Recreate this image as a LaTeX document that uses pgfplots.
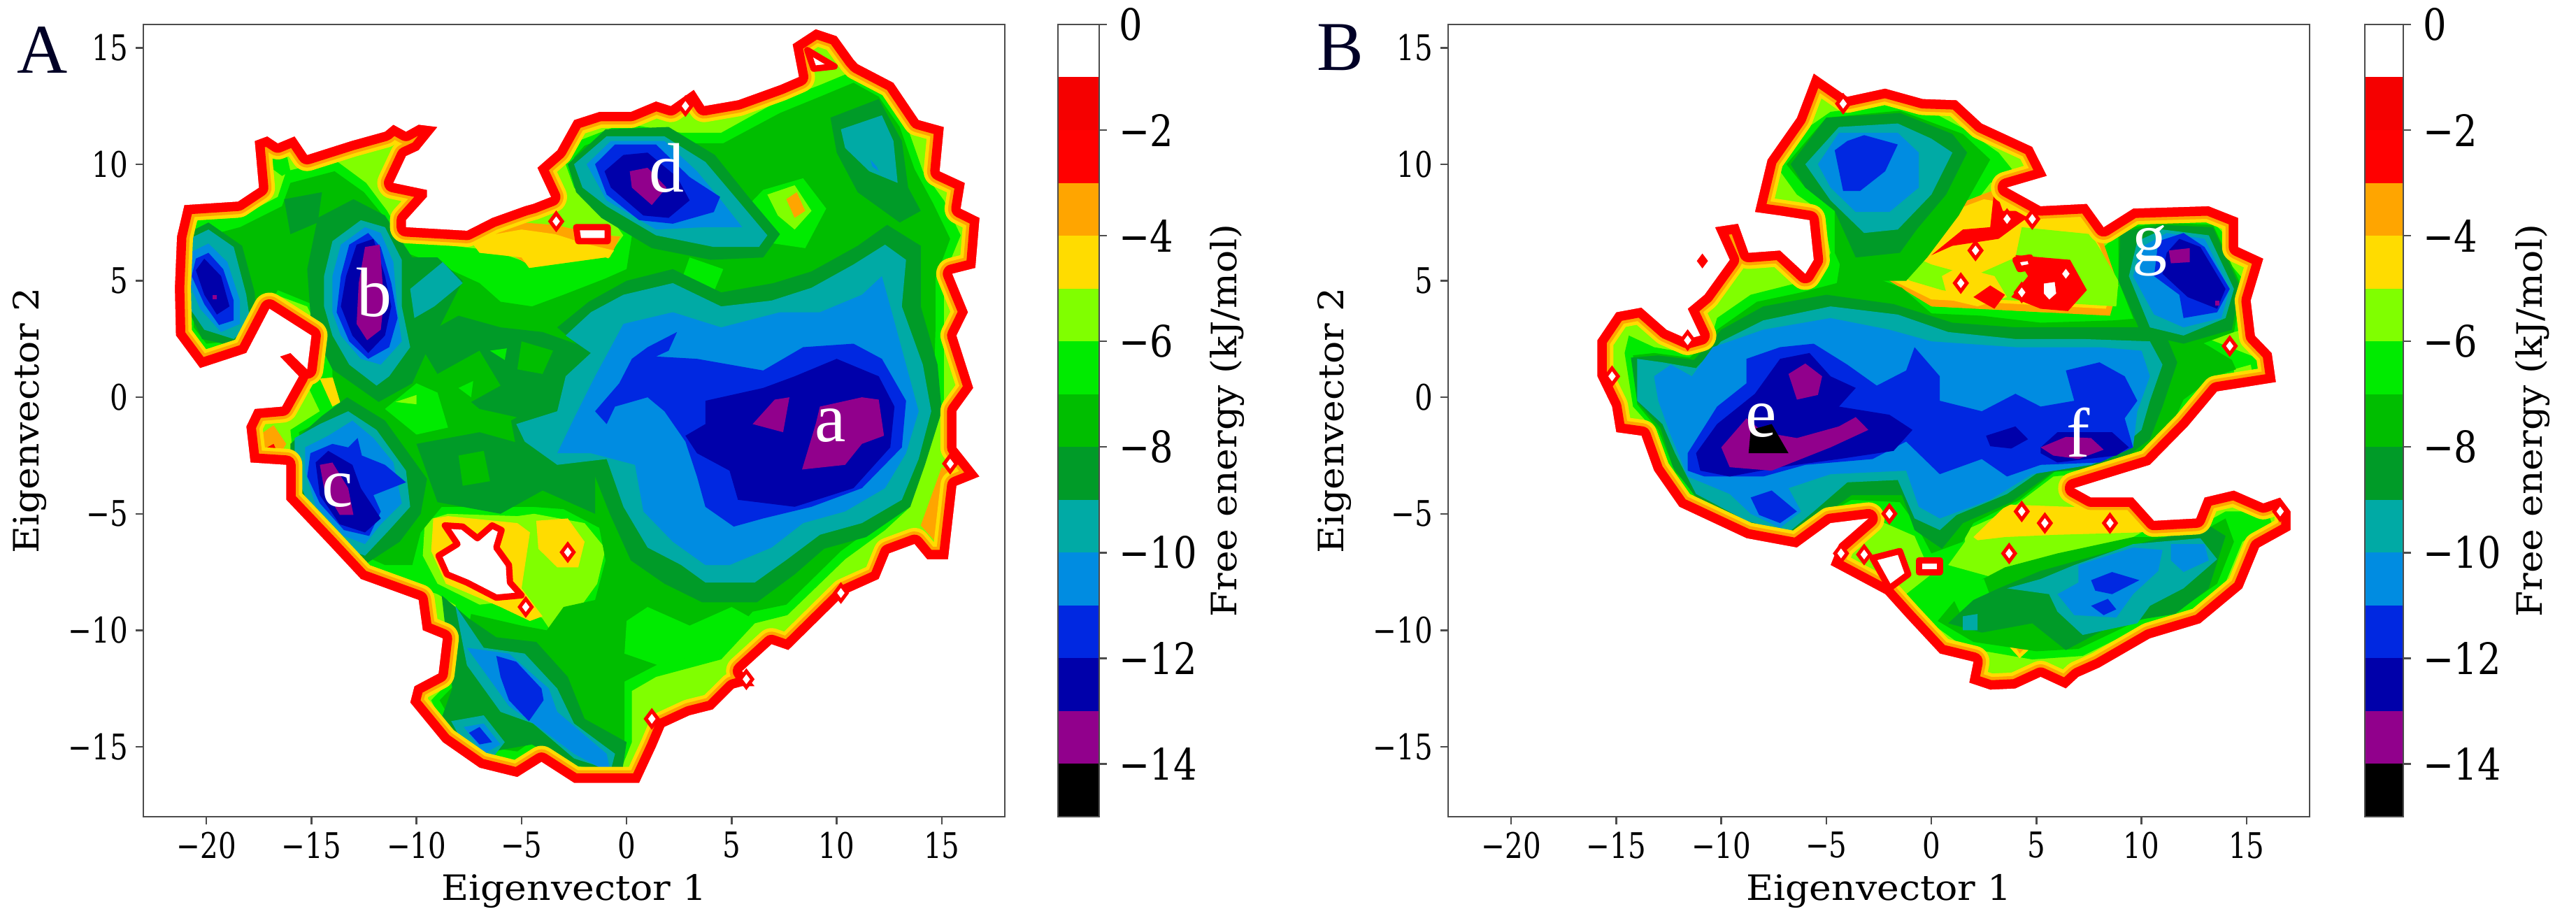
\documentclass[border=0pt]{standalone}
\usepackage{fontspec}
\setmainfont[FakeStretch=0.8]{DejaVu Serif}
\newfontfamily\cbfont[FakeStretch=0.85]{DejaVu Serif}
\newfontfamily\timesf{Liberation Serif}
\usepackage{pgfplots}
\pgfplotsset{compat=1.18}

% level colours, from outermost to deepest
\definecolor{c1}{RGB}{255,0,0}
\definecolor{c3}{RGB}{255,165,0}
\definecolor{c4}{RGB}{255,220,0}
\definecolor{c5}{RGB}{128,255,0}
\definecolor{c6}{RGB}{0,235,0}
\definecolor{c7}{RGB}{0,190,0}
\definecolor{c8}{RGB}{0,155,40}
\definecolor{c9}{RGB}{0,170,165}
\definecolor{c10}{RGB}{0,140,225}
\definecolor{c11}{RGB}{0,40,225}
\definecolor{c12}{RGB}{0,0,170}
\definecolor{c13}{RGB}{145,0,140}
\definecolor{axc}{gray}{0.3}

\newcommand\lv[2]{\addplot[fill=#1,draw=none] coordinates {#2} -- cycle;}
\newcommand\rim[1]{%
  \addplot[fill=c5,draw=c5,line width=2pt,line join=round] coordinates {#1} -- cycle;
  \addplot[fill=c6,draw=none] coordinates {#1} -- cycle;}
% red, orange and yellow bands just inside the outline, then white outside it
\newcommand\ringdo[1]{%
  \addplot[draw=c4,line width=9.2pt,line join=round] coordinates {#1};
  \addplot[draw=c3,line width=7.2pt,line join=round] coordinates {#1};
  \addplot[draw=c1,line width=5.4pt,line join=round] coordinates {#1};
  \addplot[fill=white,draw=none,even odd rule] coordinates {(-23,-18)(18,-18)(18,16)(-23,16)(-23,-18)#1(-23,-18)} -- cycle;}
\newcommand\base[1]{\edef\tmp{\noexpand\addplot[fill=c5,draw=none] coordinates {#1} -- cycle;}\tmp}
\newcommand\ring[1]{\edef\tmp{\noexpand\ringdo{#1}}\tmp}
\newcommand\hole[1]{\addplot[fill=white,draw=c1,line width=1.8pt,line join=round] coordinates {#1} -- cycle;}
\newcommand\pinholes[1]{\addplot[only marks,mark=diamond*,mark size=2.3pt,mark options={fill=white,draw=c1,line width=1pt}] coordinates {#1};}

% outlines of the populated region (first point repeated at the end)
\def\outerA{(-21.5,4.7)(-21.4,6.9)(-21.05,8.25)(-18.5,8.4)(-17.5,9)(-17.7,11)(-17.1,11.2)(-16.6,10.9)(-15.8,11.2)(-15.2,10.4)(-13.1,11)(-11.5,11.4)(-11.1,11.7)(-10.5,11.4)(-9.9,11.7)(-9,11.6)(-9.9,10.6)(-10.5,10.35)(-11.1,9.2)(-9.5,8.9)(-9.5,8.6)(-10.5,7.6)(-10.5,7.3)(-7.6,7.15)(-6.4,7.7)(-4.85,8.2)(-4.45,8.3)(-3.6,8.6)(-4.25,9.85)(-3.3,10.6)(-2.5,11.9)(-1.3,12.25)(0.2,12.25)(1.4,12.7)(2.1,12.5)(3.2,13.2)(3.7,12.5)(5.3,12.75)(7.3,13.4)(8.2,13.75)(7.9,15.15)(9,15.8)(10,15.5)(10.8,14.5)(11,14.3)(12.7,13.5)(13.9,11.9)(15.1,11.6)(14.9,9.7)(16.1,9.2)(15.9,8.1)(16.8,7.7)(16.6,5.55)(15.5,5.3)(16.25,3.65)(15.7,2.65)(16.5,0.4)(15.7,-0.6)(15.7,-2.15)(16.8,-3.4)(15.7,-3.8)(15.3,-6.95)(14.3,-6.95)(13.7,-6.3)(12.5,-6.7)(12,-7.8)(10.4,-8.45)(7.7,-10.85)(6.9,-10.6)(5.5,-11.75)(6.1,-12.4)(5.5,-12.4)(5.1,-12.5)(4.1,-13.4)(3,-13.65)(1.8,-14.15)(1.4,-15)(0.6,-16.55)(-2.5,-16.55)(-4.05,-15.65)(-5.2,-16.3)(-7,-15.9)(-8.75,-14.8)(-10.3,-13.1)(-10.1,-12.4)(-8.95,-11.85)(-8.75,-10.35)(-9.7,-10)(-9.9,-8.7)(-12.65,-7.8)(-14.2,-6.3)(-16.2,-4.4)(-16.2,-2.9)(-17.9,-2.8)(-18.1,-1.25)(-17.7,-0.5)(-16.4,-0.4)(-15.6,0.9)(-16.5,1.75)(-16,1.9)(-15.2,1.2)(-15,2.65)(-17,3.8)(-18.1,1.9)(-20.3,1.25)(-21.45,2.65)(-21.5,4.7)}
\def\outerB{(-15.9,2.45)(-15,3.65)(-13.8,3.85)(-12.6,2.9)(-11.6,2.5)(-11,2.65)(-11.6,3.8)(-10.8,4.4)(-9.6,5.9)(-10.3,7.3)(-9.2,7.45)(-8.7,6.2)(-7.2,6.3)(-6,5.3)(-5.6,5.9)(-5.8,7.6)(-7.2,7.8)(-8.4,7.95)(-7.8,10.2)(-6.4,12)(-5.6,13.9)(-4,12.9)(-2.2,13.25)(-0.4,12.8)(1.2,12.75)(2.4,11.75)(4.8,10.75)(5.5,9.5)(3.6,9)(5.2,8.2)(7.4,8.3)(8.2,7.3)(9.6,8.1)(13.2,8.2)(14.6,7.7)(14.6,6.45)(15.8,5.95)(15.2,4.15)(15.4,2.65)(16.2,1.9)(16.4,0.65)(13.6,0.25)(12.2,-1.25)(10.4,-2.9)(6.8,-3.9)(7.6,-4.3)(9.6,-4.3)(10.6,-5.3)(12.6,-5.2)(13,-4.3)(14.4,-4)(15.8,-4.55)(16.6,-4.3)(17.1,-4.9)(17.1,-5.7)(15.6,-6.45)(14.8,-8.2)(12.8,-9.7)(10.4,-10.35)(8,-11.6)(7,-12)(6.4,-12.5)(5.2,-12)(4,-12.5)(2.8,-12.55)(1.8,-12.25)(2,-11.35)(0.4,-11)(-1.2,-9.45)(-2.2,-8.45)(-4.8,-7.2)(-4.4,-6.3)(-3,-5.2)(-4.8,-5.4)(-6.4,-6.45)(-8.8,-6.05)(-12,-4.7)(-13.2,-3.15)(-13.8,-1.65)(-15,-1.5)(-15.2,-0.4)(-15.9,0.9)(-15.9,2.45)}

\pgfplotsset{
  map/.style={
    scale only axis, width=246.4pt, height=226.6pt, anchor=south west,
    xmin=-23, xmax=18, ymin=-18, ymax=16, axis on top,
    axis line style={axc,line width=0.5pt},
    xtick={-20,-15,-10,-5,0,5,10,15},
    xticklabels={−20,−15,−10,−5,0,5,10,15},
    ytick={-15,-10,-5,0,5,10,15},
    yticklabels={−15,−10,−5,0,5,10,15},
    xtick pos=bottom, ytick pos=left,
    tick align=outside, major tick length=2.2pt,
    tick style={axc,line width=0.5pt},
    tick label style={font=\fontsize{10.1}{12}\selectfont},
    xticklabel style={inner sep=1.5pt,yshift=-0.5pt},
    yticklabel style={inner sep=2pt},
    xlabel={\scalebox{1.34}[1]{Eigenvector 1}}, ylabel={\scalebox{1.34}[1]{Eigenvector 2}},
    label style={font=\fontsize{12}{14}\selectfont},
    every axis x label/.style={at={(axis description cs:0.5,-0.0940)},anchor=center},
    every axis y label/.style={at={(axis description cs:-0.132,0.5)},rotate=90,anchor=center},
  },
  cbar/.style={
    scale only axis, height=226.6pt, anchor=south west,
    xmin=0, xmax=1, ymin=-15, ymax=0, axis on top,
    axis line style={axc,line width=0.5pt},
    xtick=\empty,
    ytick={-14,-12,-10,-8,-6,-4,-2,0},
    yticklabels={−14,−12,−10,−8,−6,−4,−2,0},
    ytick pos=right, yticklabel pos=right,
    tick align=outside, major tick length=2.2pt,
    tick style={axc,line width=0.5pt},
    tick label style={font=\cbfont\fontsize{12.4}{14}\selectfont},
    ylabel={\scalebox{1.34}[1]{Free energy (kJ/mol)}},
    label style={font=\fontsize{12}{14}\selectfont},
  },
}
\newcommand\cbarfill{%
  \lv{white}{(0,0)(1,0)(1,-1)(0,-1)}
  \lv{red!96!black}{(0,-1)(1,-1)(1,-2)(0,-2)}
  \lv{c1}{(0,-2)(1,-2)(1,-3)(0,-3)}
  \lv{c3}{(0,-3)(1,-3)(1,-4)(0,-4)}
  \lv{c4}{(0,-4)(1,-4)(1,-5)(0,-5)}
  \lv{c5}{(0,-5)(1,-5)(1,-6)(0,-6)}
  \lv{c6}{(0,-6)(1,-6)(1,-7)(0,-7)}
  \lv{c7}{(0,-7)(1,-7)(1,-8)(0,-8)}
  \lv{c8}{(0,-8)(1,-8)(1,-9)(0,-9)}
  \lv{c9}{(0,-9)(1,-9)(1,-10)(0,-10)}
  \lv{c10}{(0,-10)(1,-10)(1,-11)(0,-11)}
  \lv{c11}{(0,-11)(1,-11)(1,-12)(0,-12)}
  \lv{c12}{(0,-12)(1,-12)(1,-13)(0,-13)}
  \lv{c13}{(0,-13)(1,-13)(1,-14)(0,-14)}
  \lv{black}{(0,-14)(1,-14)(1,-15)(0,-15)}
}
\newcommand\mk[3]{\node[text=white,font=\timesf\fontsize{20}{20}\selectfont] at (axis cs:#1,#2) {#3};}

\begin{document}
\begin{tikzpicture}
\useasboundingbox (0,0) rectangle (736.8pt,264pt);

% ---- panel A
\begin{axis}[map, at={(41pt,30.4pt)}]
\base{\outerA}
\rim{(-20.9,4.5)(-20.8,7)(-20.4,7.6)(-18.5,7.7)(-16.6,8.6)(-16.2,9.7)(-13.9,10.2)(-12.4,9.2)(-11.4,8)(-10.7,6.9)(-8.75,6.55)(-6.4,6.3)(-4.45,5.7)(-2.5,5.7)(-0.95,5.95)(-0.15,6.95)(-0.75,7.7)(-2.5,9)(-2.9,10)(-2.3,11)(-0.15,11.75)(2.6,11.35)(4.5,11.35)(7.3,12.75)(9.2,13.4)(10.8,14)(12.15,13.25)(13.3,11.75)(14.1,9.7)(15.1,8.45)(15.9,6.95)(15.1,5.2)(15.1,2.9)(15.1,-0.1)(14.1,-2.4)(13.5,-4.7)(12.3,-5.7)(10.4,-6.95)(7.65,-9.35)(6.1,-9.7)(4.5,-11.25)(1.4,-12)(0.25,-12.6)(0.25,-14.8)(-0.35,-16.15)(-2.5,-15.8)(-4.05,-15)(-5.2,-15.65)(-6.8,-15.4)(-8.75,-14)(-9.3,-13)(-8.2,-12)(-8,-10.2)(-8.15,-8.7)(-11.5,-7.7)(-13.05,-7.05)(-15.4,-4.7)(-15.8,-3.15)(-16,-1.4)(-14.6,-0.6)(-15.4,0.9)(-14.4,2.4)(-15.2,3.9)(-17,4.5)(-17.7,3.9)(-17.9,2.65)(-20.1,1.9)(-21,2.65)}
% rim patches
\lv{c3}{(-8,7)(-5,7.5)(-3.4,7.4)(-1.5,7)(-0.3,6.9)(-0.8,6)(-3.4,5.8)(-4.5,5.6)(-6,6.4)}
\lv{c4}{(-7.5,6.8)(-5,7.2)(-3.4,7)(-2,6.6)(-0.6,6.3)(-1,5.8)(-3.4,5.4)(-4.2,5)(-5,6)(-7,6.2)}
\lv{c3}{(14,-5.5)(15,-3)(16.2,-3.5)(15.2,-4)(15,-6.5)}
\lv{c3}{(-17.6,-1.7)(-16.8,-1.2)(-16.2,-2)(-16.6,-2.6)(-17.4,-2.6)}
\lv{c1}{(-17.2,-2.2)(-16.8,-2)(-16.6,-2.4)(-17,-2.6)}
\lv{c4}{(-14.6,0.8)(-13.4,0.9)(-13.2,0)(-14,-0.4)}
% around the hole
\lv{c6}{(-9.8,-5.2)(-8.5,-4.8)(-4.5,-4.7)(-1,-5.6)(-0.4,-8)(-1.5,-9.5)(-1.2,-10.5)(-2.5,-12)(-4,-11)(-5,-10)(-7,-9.5)(-8,-9)(-9.8,-8)}
\lv{c5}{(-9.6,-5.3)(-8.5,-5)(-5.2,-5.1)(-4.4,-5)(-2,-5.4)(-1,-6.5)(-1.4,-8)(-2.2,-9)(-2,-10.3)(-2.8,-11.1)(-4,-9.5)(-5,-8.7)(-7,-8.9)(-9,-8)(-9.7,-6.8)}
\lv{c4}{(-9.2,-5.2)(-8.5,-5.1)(-5.2,-5.4)(-4.6,-5.8)(-5,-8.2)(-4,-9.4)(-4.6,-9.6)(-6,-9)(-8.6,-8)(-9.3,-6.6)}
\lv{c4}{(-4.3,-5.3)(-2.8,-5.2)(-2,-6.2)(-2.3,-7.3)(-3.3,-7.3)(-4.2,-6.5)}
\lv{c6}{(-8.8,6)(-5,5.5)(-1,6)(0.5,5.5)(1,4.9)(-1,4.6)(-3,3.9)(-5,3.7)(-6.5,4.5)(-8,4)(-9,5)}
% medium green
\lv{c7}{(-20.6,4.5)(-20.5,6.8)(-18.4,7.3)(-16.4,8.2)(-16,9.2)(-13.9,9.7)(-12.5,8.8)(-11.5,7.7)(-10.8,6.3)(-8.7,5.6)(-7,4.9)(-6,4.1)(-4.5,3.9)(-3,4.4)(-1,5.1)(0,5.5)(0.3,7.2)(-1,8)(-2.5,9.2)(-2.5,10.3)(-2,10.8)(-0.2,11.4)(2.7,10.9)(4.6,10.9)(7.3,12.2)(9.2,12.9)(10.8,13.5)(12,12.9)(13,11.6)(13.7,9.8)(14.6,8.3)(15.4,6.8)(14.7,5.1)(14.7,2.9)(14.6,-0.1)(13.7,-2.4)(13.1,-4.6)(12,-5.4)(10.2,-6.6)(7.6,-8.9)(6,-9.2)(4.4,-10.8)(1.4,-11.5)(-0.1,-12.2)(-0.1,-14.8)(-0.7,-15.8)(-2.5,-15.4)(-4.1,-14.5)(-5.2,-15.2)(-6.8,-15)(-8.4,-13.8)(-8.9,-13)(-7.8,-12)(-7.6,-10.2)(-7.4,-9.3)(-5,-9.8)(-3.8,-10)(-3,-9)(-1.5,-8.7)(-1,-7)(-1.3,-5.6)(-3,-4.8)(-4.5,-4.7)(-8.8,-4.7)(-9.8,-5.8)(-10.2,-7.2)(-11.5,-7.2)(-13,-6.6)(-15,-4.6)(-15.4,-3.1)(-15.6,-1.5)(-14.5,-1)(-13.5,-0.6)(-14,0.9)(-14,2.4)(-14.7,3.9)(-16.6,4.6)(-17.5,3.2)(-17.5,2.5)(-20,2.3)(-20.6,3)}
\lv{c6}{(-11.5,-0.5)(-10,0.6)(-9,0.2)(-8.5,-1.3)(-10,-1.6)}
\lv{c5}{(-11,-0.2)(-10,0.1)(-10,-0.3)}
\lv{c6}{(2.6,5)(4,4.2)(4.6,5.5)(3,6)}
\lv{c6}{(1,-9)(3,-9.8)(5,-9)(6,-9.5)(4.5,-10.8)(1.5,-11.5)(-0.1,-11)(0,-9.6)}
\lv{c6}{(5,7.5)(6.5,8.9)(8.4,9.4)(9.5,8.1)(8.5,6.4)(7,6.6)}
\lv{c5}{(6.7,8.7)(8,9.1)(8.8,8)(8,7.2)(7.2,7.8)}
\lv{c3}{(7.6,8.5)(8.1,8.8)(8.5,8)(8,7.7)}
\lv{c6}{(-17,9.9)(-16.4,9.5)(-16,9.7)(-16.2,10.5)(-16.8,10.6)}
% dark green
\lv{c8}{(-15.2,5.5)(-14.7,7.7)(-13,8.5)(-11.5,7.8)(-10.2,6)(-9,6)(-7.8,5)(-8.8,3.2)(-9.5,2)(-10.2,0.6)(-11.8,-0.2)(-14,1.2)(-15,3)}
\lv{c8}{(-16,-2)(-14.5,-0.8)(-13.3,0)(-11.5,-1)(-9.5,-3.5)(-9.8,-5)(-10.8,-6.2)(-12.5,-7.2)(-14,-6.5)(-15.5,-4.5)(-16,-3)}
\lv{c8}{(-21.3,5)(-21,7)(-19.9,7.5)(-18.3,6.5)(-17.7,4.5)(-17.6,3)(-18.7,2.2)(-20.2,2.5)(-21,4)}
\lv{c8}{(-5.5,-1)(-3.5,0)(-3.2,1)(-2,2)(-3.3,3)(-1.8,4.1)(0,5)(2.2,5.5)(4.5,4.5)(7,4.9)(8.8,5.4)(11,6.5)(12.4,7.4)(14,6.5)(14,3.9)(14.8,1.4)(15,-0.6)(14.2,-2.9)(13.5,-4.7)(11.4,-6)(9.4,-6.5)(8,-7.6)(6.2,-8.8)(3.6,-8.8)(1.8,-8)(0.2,-7)(-0.8,-5)(-1.5,-3.4)(-3.5,-3.4)(-5.2,-2.4)}
\lv{c8}{(-2.8,10)(-1,11.5)(2,11.6)(4.2,10.4)(5.8,8.6)(7.3,7)(6.5,6)(4,5.9)(1.2,6.4)(-1.2,7.7)(-2.4,8.8)}
\lv{c8}{(9.7,12)(12,12.8)(13.1,11)(13.4,9)(14,8)(13,7.5)(11,8.8)(10,10.5)}
\lv{c8}{(-16.3,8.5)(-14.5,8.8)(-14.7,7.5)(-16,7)}
\lv{c8}{(-10,2.5)(-8,3.5)(-6,3)(-4,2.8)(-1.5,2)(-3.5,0)(-5,-0.9)(-7,-0.5)(-9,1)}
\lv{c8}{(-10,-2)(-7,-1.5)(-5,-2)(-1.5,-3)(-1.5,-5)(-4,-4)(-6,-5)(-9,-4.5)}
\lv{c8}{(-8.8,-8.5)(-7.5,-9.5)(-6.2,-10.3)(-4.3,-10.5)(-2.8,-12)(-2,-13.8)(0,-14.8)(-0.2,-16)(-2.8,-15.8)(-4.5,-14.9)(-7,-15.3)(-8.9,-14)(-8.3,-12.5)}
% lighter spots in the dark green
\lv{c7}{(-9,1)(-7,2)(-6,0.5)(-8,-0.5)}
\lv{c6}{(-8,0.4)(-7.3,0.7)(-7.4,0)}
\lv{c7}{(-5,2.4)(-3.5,2)(-4,1)(-5.2,1.2)}
\lv{c6}{(-6.5,2)(-5.7,2.1)(-5.8,1.6)}
\lv{c7}{(-8,-2.5)(-6.8,-2.3)(-6.5,-3.6)(-7.8,-3.8)}
% teal
\lv{c9}{(-2.9,2.65)(-1.7,3.65)(-0.15,4.4)(2.2,4.9)(4.5,3.9)(6.9,4.15)(8.8,4.7)(10.8,5.7)(12.3,6.55)(13.3,5.9)(13.1,3.9)(14.1,1.4)(14.5,-0.6)(13.9,-2.65)(13.1,-4.4)(11.2,-5.4)(9.2,-5.9)(7.65,-6.95)(6.1,-7.95)(3.75,-7.95)(2.6,-7.2)(1,-6.45)(-0.15,-4.7)(-0.95,-2.65)(-3.3,-2.9)(-4.85,-1.9)(-5.25,-1.15)(-3.3,-0.6)(-2.9,0.9)(-1.7,1.9)}
\lv{c9}{(10.2,11.5)(12.15,12.1)(12.7,11)(12.9,9.2)(11.55,9.7)(10.4,10.7)}
\lv{c9}{(-10.3,4.65)(-8.75,5.8)(-7.8,4.9)(-9.15,3.9)(-10.1,3.4)}
\lv{c9}{(-2.5,10)(-0.95,11.2)(1.8,11.2)(3.75,10.1)(5.3,8.45)(6.7,6.95)(6.3,6.45)(4.15,6.45)(1.4,6.95)(-0.95,8.2)(-2.1,9)}
\lv{c9}{(-14.4,5.2)(-14,6.7)(-12.65,7.6)(-11.5,7.3)(-10.7,5.9)(-10.7,3.9)(-10.3,2.15)(-11.3,0.9)(-11.9,0.5)(-13.2,1.4)(-14,2.65)(-14.4,3.9)}
\lv{c9}{(-21.2,5.2)(-21.05,6.7)(-19.9,7.2)(-18.7,6.45)(-18.1,4.4)(-17.9,3.15)(-18.7,2.5)(-20.1,2.9)(-20.85,3.9)}
\lv{c9}{(-15.8,-1.75)(-14.6,-1.15)(-13.25,-0.6)(-11.9,-1.4)(-10.5,-3.15)(-10.3,-4.7)(-11.3,-5.7)(-12.45,-6.8)(-13.45,-6.45)(-15,-4.9)(-15.8,-3.15)}
\lv{c9}{(-8.15,-8.95)(-6.8,-10.75)(-4.85,-11)(-3.3,-12.5)(-2.5,-14)(-0.55,-15.3)(-0.75,-16)(-2.5,-15.5)(-4.45,-14)(-6,-13.5)(-7.6,-11.5)}
\lv{c9}{(-8.35,-13.9)(-6.8,-13.65)(-5.8,-14.8)(-6.4,-15.5)(-7.75,-14.9)}
% blue
\lv{c10}{(-0.15,3.15)(2.2,3.65)(4.5,3)(7.3,3.65)(9.2,3.65)(11.2,4.4)(12.15,5.2)(12.7,3.4)(13.3,1.4)(13.9,-0.6)(13.3,-2.4)(12.3,-3.9)(10.4,-4.9)(8.4,-5.4)(6.9,-6.45)(4.9,-7.2)(3.75,-7.2)(2.2,-6.2)(0.8,-4.9)(0.4,-2.9)(-1.7,-2.4)(-3.3,-2.4)(-2.5,-0.9)(-1.5,0.9)(-0.75,2.15)}
\lv{c10}{(-1.9,10)(-0.75,11)(1.8,11)(3.35,9.7)(4.5,8.45)(5.5,7.3)(3.75,7.3)(1.4,7.2)(-0.95,8.45)}
\lv{c10}{(-14,5.2)(-13.6,6.55)(-12.45,7.3)(-11.7,7.05)(-11.1,5.8)(-10.9,3.65)(-10.7,2.4)(-11.7,1.4)(-12.65,1.65)(-13.6,2.65)(-14,3.65)}
\lv{c10}{(-15.3,-2.15)(-14.2,-1.65)(-13.05,-1)(-12.05,-1.75)(-11.1,-2.8)(-10.7,-4.55)(-11.7,-5.45)(-12.45,-6.3)(-13.45,-5.95)(-14.8,-4.65)(-15.3,-3.15)}
\lv{c10}{(-7.6,-10.75)(-5.6,-11)(-3.7,-12.5)(-3.3,-13.5)(-0.95,-15.3)(-0.75,-16.15)(-2.5,-15.3)(-4.05,-14.25)(-5.6,-13.25)(-7,-11.5)}
\lv{c10}{(-7.75,-14.15)(-6.8,-14)(-6,-14.9)(-6.8,-15.3)}
\lv{c10}{(-20.95,5.2)(-20.8,6.2)(-19.9,6.6)(-19,5.8)(-18.4,4.15)(-18.4,3.15)(-19.3,2.8)(-20.3,3.8)}
\lv{c10}{(11.6,10.2)(11.9,9.9)(12,9.7)(11.7,9.9)}
% deep blue
\lv{c11}{(-1.5,-0.6)(-0.35,0.6)(0.25,1.65)(1,2.15)(2.4,2.8)(2,2)(1.4,1.75)(3.35,1.65)(6.5,1.15)(8.4,2.15)(10.8,2.3)(12.15,1.65)(13.3,-0.15)(13.1,-2.15)(11.2,-3.9)(8.8,-4.7)(6.5,-5.2)(5.1,-5.55)(3.75,-4.7)(3.35,-3.4)(2.8,-1.9)(1.8,-0.6)(1,0)(-0.55,-0.4)(-0.95,-1.15)}
\lv{c11}{(-1.5,10)(-0.55,10.85)(1.4,10.85)(3,9.45)(4.45,8.6)(4.15,7.95)(2.2,7.45)(0.6,7.6)(-0.95,8.7)}
\lv{c11}{(-13.6,5.2)(-13.2,6.55)(-12.3,7.05)(-11.7,6.45)(-11.2,4.9)(-10.9,3.4)(-11.3,2.15)(-12.3,1.65)(-13.2,2.4)(-13.8,3.65)}
\lv{c11}{(-15.05,-2.4)(-14,-2)(-13.25,-2.15)(-12.8,-1.75)(-12.6,-2.5)(-11.5,-2.9)(-10.5,-3.65)(-12.05,-4.2)(-11.7,-4.9)(-12.25,-5.95)(-13.45,-5.7)(-14.6,-4.55)(-15.2,-3.4)}
\lv{c11}{(-6.2,-11.1)(-5.25,-11.35)(-4.05,-12.5)(-3.95,-13)(-4.65,-13.9)(-5.6,-13)(-6,-12)}
\lv{c11}{(-7.5,-14.4)(-7,-14.15)(-6.4,-14.8)(-7,-14.9)}
\lv{c11}{(-20.7,5.2)(-20.5,5.95)(-19.9,6.2)(-19.2,5.5)(-18.7,4.15)(-18.7,3.3)(-19.4,3.1)(-20.1,4)}
% navy
\lv{c12}{(3.75,-0.15)(6.5,0.4)(8,0.9)(10,1.65)(12,0.9)(12.75,-0.4)(12.55,-2.15)(10.8,-3.9)(8,-4.7)(5.3,-4.4)(4.9,-3.15)(3.35,-2.4)(2.8,-1.65)(3.75,-1.15)}
\lv{c12}{(-1.05,9.7)(-0.15,10.4)(1,10.5)(2.4,9.45)(3,8.45)(2,7.7)(0.8,7.8)(-0.75,9)}
\lv{c12}{(-13.35,5.2)(-12.85,6.55)(-12.05,6.8)(-11.5,5.2)(-11.2,3.9)(-11.5,2.65)(-12.3,1.9)(-13.05,2.65)(-13.6,3.9)}
\lv{c12}{(-14.8,-2.8)(-14.2,-2.3)(-13.05,-2.9)(-12.65,-3.9)(-11.7,-5.2)(-12.45,-5.8)(-13.65,-5.45)(-14.6,-4.2)}
\lv{c12}{(-20.5,5.45)(-20.1,5.95)(-19.3,5.2)(-18.9,3.9)(-19.5,3.55)(-20.1,4.4)}
% purple
\lv{c13}{(7.05,-0.1)(7.75,0)(7.45,-1.5)(6,-1.15)}
\lv{c13}{(11.2,0)(12,-0.1)(12.25,-1.65)(11.2,-2)(10.4,-2.9)(8.35,-3.1)(9,-1.15)(9.2,-0.4)}
\lv{c13}{(0.15,9.7)(1,9.85)(1.9,9)(1.2,8.25)(0.25,9)}
\lv{c13}{(-12.45,6.45)(-11.75,6.55)(-11.55,4.15)(-11.7,2.9)(-12.35,2.45)(-12.85,3.15)(-12.75,4.9)}
\lv{c13}{(-14.6,-2.9)(-14,-2.8)(-13.25,-3.9)(-13,-5.05)(-13.65,-5.05)(-14.4,-3.9)}
\lv{c13}{(-19.7,4.4)(-19.5,4.4)(-19.5,4.2)(-19.7,4.2)}
\ring{\outerA}
% holes in the surface
\hole{(-8.65,-5.5)(-7.8,-5.55)(-7.1,-6.05)(-6.4,-5.5)(-5.95,-5.7)(-6.2,-6.45)(-5.6,-7.2)(-5.55,-7.95)(-5,-8.5)(-6.2,-8.6)(-7.6,-7.95)(-8.55,-7.6)(-8.95,-6.8)(-8.05,-6.3)}
\hole{(8.6,14.9)(9.9,14.2)(8.9,14.1)}
\hole{(-2.4,7.3)(-0.9,7.3)(-0.9,6.7)(-2.3,6.7)}
\pinholes{(-2.8,-6.65)(15.4,-2.85)(10.2,-8.4)(5.7,-12.1)(1.2,-13.8)(-3.35,7.55)(-4.8,-9)(2.8,12.5)}
\mk{9.7}{-1.2}{a}
\mk{-12}{4.5}{b}
\mk{-13.75}{-4}{c}
\mk{1.9}{9.85}{d}
\end{axis}
\begin{axis}[cbar, at={(302.6pt,30.4pt)}, width=11.8pt,
  every axis y label/.style={at={(axis description cs:4.1,0.5)},rotate=90,anchor=center}]
\cbarfill
\end{axis}

% ---- panel B
\begin{axis}[map, at={(414.2pt,30.4pt)}]
\base{\outerB}
\rim{(-14.6,1.9)(-14.4,2.65)(-13.2,2.15)(-11.6,1.9)(-10.6,2.15)(-10.2,3.4)(-8.6,4.4)(-6.4,4.9)(-5.2,5.3)(-4.8,6.2)(-5.2,7.95)(-6.4,8.7)(-7.2,9.7)(-6.4,11.25)(-4.8,12.25)(-2.2,12.55)(0,12.25)(1.6,11.5)(3.2,10.5)(4,9.6)(2.8,9.2)(1.2,7.3)(-0.8,6.2)(-1.6,5.2)(0,3.9)(2.4,3.8)(5.2,3.65)(8.4,3.65)(8.8,4.9)(8.2,6.45)(9.6,7.55)(13.2,7.7)(14,6.95)(14,5.95)(15,4.9)(14.8,2.9)(13.2,2.5)(15.6,1.65)(15.6,0.9)(13.6,0.6)(12,-0.4)(10.8,-2.4)(8.4,-3.15)(5.8,-3.4)(3.6,-4.9)(1.6,-5.7)(1.6,-6.45)(3.2,-7.2)(6,-6.45)(9.6,-5.7)(12.4,-5.7)(14,-4.9)(16,-4.9)(16.2,-5.4)(14.8,-6.2)(14,-7.95)(12.4,-9.2)(10,-9.85)(7.2,-11.1)(4.8,-11.25)(1.6,-10.75)(0,-9.7)(-1.2,-8.45)(0,-7.6)(-0.8,-5.95)(-4,-4.7)(-6.4,-5.95)(-8.4,-5.7)(-11.2,-4.55)(-12.4,-3.4)(-13.2,-1.4)(-14.2,-0.4)}
% yellow patch and its red streaks
\lv{c3}{(-2.2,6.8)(0,7.2)(1,8.2)(3,8.9)(7.2,8)(8.2,6.6)(8.9,4.8)(8.5,3.5)(0,3.9)(-2,5)}
\lv{c4}{(-2,6.6)(0,6.9)(1,8)(2.5,8.5)(7,7.8)(8,6.5)(8.7,4.8)(8.3,3.8)(0,4.2)(-1.8,5)}
\lv{c5}{(-2.6,5.8)(-1,5)(0.5,4.6)(3,4.2)(7,4)(8.8,3.9)(8.9,5)(8,6.4)(7.6,7)(4.3,7.3)(4,6)(2,5.2)(0,5.7)(-1.5,6.3)}
\lv{c4}{(0.5,5.2)(1.3,5.6)(3,5.2)(3.6,4.3)(2.2,3.9)(0.8,4.2)}
\lv{c1}{(3,9)(3.4,8)(5,8)(3.2,6.8)(1,6.5)(0,6.1)(1.5,7.2)(2.8,7.3)}
\lv{c1}{(4,6.1)(6.6,5.9)(7.4,4.6)(6.5,3.7)(5.2,3.8)(3.8,4.3)(4.6,5.2)}
\lv{c1}{(2,4.3)(3,3.8)(3.5,4.4)(2.8,4.8)}
% yellow rim of the lower lobe
\lv{c4}{(3.6,-4.6)(6.5,-4.7)(9.5,-4.8)(10.5,-5.7)(6,-6.5)(3.5,-7)(2,-6)}
\lv{c5}{(1.6,-6.2)(3.5,-6)(6,-5.9)(10,-5.8)(9,-6.3)(6,-7.1)(3.2,-7.8)(0.8,-7.2)}
\lv{c4}{(3.6,-10.6)(4.2,-10.2)(4.8,-10.7)(4.2,-11.2)}
\lv{c4}{(5.1,-10.3)(5.5,-10)(5.9,-10.4)(5.4,-10.7)}
\lv{c3}{(4,-10.7)(4.2,-10.5)(4.4,-10.8)(4.2,-11)}
\lv{c5}{(14.4,1.2)(15.2,1.4)(15.3,0.9)(14.4,0.8)}
% medium green
\lv{c7}{(-14.2,1.8)(-13.2,1.9)(-11.5,1.7)(-10.2,2.9)(-8.3,4.1)(-6.2,4.5)(-4.5,4.9)(-4.3,6)(-3.8,5.5)(-1.4,4.7)(0,3.6)(2.4,3.5)(5.2,3.2)(8.7,3.3)(10,3.4)(11.5,3)(13.2,2.2)(14.3,1.6)(14.5,1.2)(13.5,0.9)(12,-0.1)(11.1,-1.9)(8.6,-3)(6,-3.1)(4.2,-4.4)(2,-5.4)(1.5,-6.2)(0,-6.7)(-0.7,-5.5)(-1.5,-4.5)(-3.8,-4.4)(-6.4,-5.7)(-8.4,-5.4)(-11.1,-4.2)(-12.2,-3.2)(-13,-1.4)(-14,-0.3)}
\lv{c7}{(-6.9,10)(-5,12)(-1.5,12.3)(1.5,11.3)(2.8,10.2)(1.3,7.8)(-0.2,6)(-1.2,5)(-4,5)(-4.6,6.2)(-4.6,8)(-6,9)}
\lv{c7}{(1.6,-8.2)(3.5,-7.3)(6,-6.7)(9.6,-6)(12.4,-6)(14,-5.2)(14.4,-6.2)(13.6,-8)(12,-9)(9.8,-9.6)(7,-10.8)(5,-10.9)(2,-10.5)(0.3,-9.6)}
\lv{c7}{(8.9,7.2)(11,7.5)(13.4,7.4)(14.8,4.7)(14.4,2.8)(12,2)(10,2.5)(8.9,5)}
\lv{c6}{(0.8,-8.2)(2.5,-7.8)(3,-9)(1.5,-9.5)}
% dark green
\lv{c8}{(-14.3,1.7)(-13,1.8)(-11.3,1.6)(-10,2.9)(-8,3.9)(-5,4.4)(-1.8,4)(1,3.2)(4,3)(8,3)(11,3)(11.7,1.5)(11,-0.4)(10.4,-1.8)(8.6,-3)(5.8,-3.2)(3.8,-4.5)(1.5,-5.4)(0.5,-6.5)(-0.8,-5.7)(-1.4,-4.2)(-3.8,-4.2)(-6.4,-5.9)(-8.6,-5.5)(-11.2,-4.3)(-12.3,-3)(-12.9,-1.3)(-14,-0.2)}
\lv{c8}{(-6.7,10)(-5,12)(-1.5,12.2)(1,11.3)(1.7,10.5)(0.7,8.7)(-0.7,7.2)(-1.5,6.2)(-3.6,6)(-4.6,8)(-6,9)}
\lv{c8}{(9,7.1)(11,7.4)(13.4,7.3)(14.7,4.7)(14.3,2.9)(12,2.3)(10,2.7)(8.9,5)}
\lv{c8}{(3.2,-8.2)(5.2,-7.45)(9.2,-6.45)(13.2,-5.5)(14,-5.95)(13.2,-8.2)(11.6,-9.3)(8.8,-9.7)(6.4,-10.85)(4.8,-9.7)(2.4,-10.1)(0.8,-9.7)(2,-8.7)}
% teal
\lv{c9}{(-14,1.65)(-12.8,1.5)(-11.2,1.25)(-10,2.4)(-8,3.3)(-4.8,3.9)(-1.6,3.55)(0.8,2.8)(4,2.5)(7.2,2.5)(10.4,2.4)(11,1.4)(10.4,-0.15)(10,-1.4)(8.4,-2.65)(5.6,-2.9)(3.6,-4.15)(1.2,-5.05)(0.4,-5.7)(-0.8,-5.2)(-1.6,-3.55)(-4,-3.65)(-5.6,-4.9)(-6.8,-5.8)(-8.8,-5.3)(-11.2,-4.15)(-12.2,-2.4)(-12.8,-1.15)(-14,-0.15)}
\lv{c9}{(-6,10)(-4.4,11.6)(-1.6,11.75)(0,11.1)(1,10.5)(0,8.7)(-1.6,7.2)(-3.2,7.05)(-4.8,8.45)}
\lv{c9}{(9.8,6.7)(11,7.2)(13.2,6.95)(14.4,4.65)(14,3.4)(12,2.65)(10.4,3)(9.4,5.2)}
\lv{c9}{(3.6,-8.2)(5.2,-7.8)(6.8,-7.2)(9.6,-6.3)(12.8,-6.05)(13.6,-6.95)(12,-8.2)(10.4,-8.95)(9.8,-9.7)(7.2,-10.2)(6,-9.2)(5.6,-8.45)}
\lv{c9}{(1.5,-9.4)(2.2,-9.3)(2.2,-10)(1.5,-10)}
% blue
\lv{c10}{(-13.2,0.9)(-12.4,1.4)(-11.4,0.9)(-10.4,2.15)(-8,2.9)(-4.8,3.4)(-2,2.9)(0,2.4)(4,2.15)(8,2.15)(10,2)(10.4,0.9)(9.8,-0.6)(9.6,-2.15)(7.6,-2.9)(4.8,-3.3)(2.8,-4.4)(0.4,-5.2)(-0.6,-4.7)(-1.2,-3.15)(-4.8,-3.3)(-6.8,-3.9)(-6.2,-4.9)(-7.2,-5.6)(-8.6,-5)(-9.6,-4.15)(-11.6,-3.4)(-12.4,-1.65)(-13,-0.15)}
\lv{c10}{(-5.4,10)(-4.4,11.35)(-1.6,11.35)(-0.6,10.5)(-0.6,9)(-2,7.95)(-3.6,7.95)(-4.8,9)}
\lv{c10}{(10,6.45)(11.2,7.05)(13,6.8)(14.2,4.65)(13.8,3.4)(12,3)(10.6,3.55)(9.6,5.2)}
\lv{c10}{(7,-7.2)(9.6,-6.45)(11,-6.55)(10.8,-7.45)(9.6,-8.45)(8.8,-9.45)(6.8,-9.35)(6,-8.45)(7,-7.95)}
\lv{c10}{(11.4,-6.3)(13,-6.3)(13.2,-7)(12,-7.5)(11.4,-7)}
% deep blue
\lv{c11}{(-11.6,-2.4)(-10.2,-0.4)(-8.8,0.6)(-8.8,1.65)(-7.2,2.15)(-5.6,2.3)(-4,1.4)(-2.6,0.5)(-1.2,1.15)(-0.8,2.15)(0.4,0.9)(0.4,-0.15)(2.4,-0.6)(4,0.15)(5.2,-0.4)(6.8,-0.15)(6.4,1.15)(8,1.5)(9.2,0.9)(9.8,-0.15)(9.2,-0.9)(9.6,-2.15)(8,-2.8)(5.2,-2.9)(3.6,-3.4)(2.4,-2.65)(0.4,-3.3)(-1.2,-1.9)(-2.8,-2.65)(-6,-2.9)(-8,-3.4)(-10.8,-3.4)(-11.6,-3.15)}
\lv{c11}{(-8.6,-4.3)(-7.6,-4)(-6.4,-4.9)(-7.2,-5.4)(-8.2,-5.05)}
\lv{c11}{(-4.6,10.6)(-4,11)(-3.2,11.25)(-1.6,10.85)(-2.2,9.7)(-3.4,8.85)(-4.2,8.85)}
\lv{c11}{(10.8,6.7)(12,7.05)(13,6.45)(14.2,4.65)(13.6,3.65)(12,3.4)(11.8,4.4)(10.6,5.2)}
\lv{c11}{(7.6,-7.85)(8.6,-7.5)(9.9,-7.85)(8.6,-8.45)(7.8,-8.3)}
\lv{c11}{(7.6,-8.95)(8.4,-8.65)(8.8,-9.1)(8.2,-9.35)}
% navy
\lv{c12}{(-11.2,-2.4)(-10.2,-1.15)(-8.4,0.15)(-7.2,1.65)(-5.8,1.9)(-4.8,0.9)(-3.6,0.4)(-4.4,-0.4)(-2,-0.75)(-0.9,-1.4)(-1.8,-2.3)(-4.4,-2.65)(-7.2,-3)(-9.6,-3.4)(-11,-3.15)}
\lv{c12}{(2.6,-1.65)(4,-1.25)(4.6,-1.8)(3.8,-2.2)(2.8,-2.1)}
\lv{c12}{(5.2,-2.15)(6,-1.5)(8.6,-1.5)(9.4,-2.15)(8.8,-2.5)(6,-2.8)(5.2,-2.4)}
\lv{c12}{(11.2,6.2)(11.8,6.8)(12.8,6.45)(14,4.65)(13.6,3.8)(12.2,4.3)(11,5.3)}
% purple and black
\lv{c13}{(-10,-2.15)(-8.8,-0.9)(-8,-1.5)(-6.4,-1.75)(-4.4,-1.25)(-3.6,-0.85)(-3,-1.4)(-4.8,-2.15)(-7.6,-3.15)(-9.6,-3)}
\lv{c13}{(-6.8,1)(-6,1.45)(-5.2,0.9)(-5.4,0.1)(-6.4,-0.1)}
\lv{c13}{(5.2,-2.15)(6.4,-1.7)(7.6,-1.75)(8.2,-2.25)(7,-2.65)(5.8,-2.5)}
\lv{c13}{(11.3,6.3)(12.3,6.4)(12.3,5.8)(11.4,5.75)}
\lv{c13}{(13.5,4.15)(13.7,4.15)(13.7,3.95)(13.5,3.95)}
\lv{black}{(-8.7,-2.4)(-8.6,-1.4)(-7.6,-1.15)(-6.8,-2.4)}
\ring{\outerB}
% holes in the surface
\hole{(5.2,5)(6,5.1)(6.1,4.4)(5.6,4)(5.2,4.4)}
\hole{(-2.8,-6.9)(-1.5,-6.6)(-1.1,-7.6)(-2,-8.2)}
\hole{(-0.6,-7)(0.4,-7)(0.4,-7.5)(-0.6,-7.5)}
\hole{(4,5.9)(4.7,6)(4.8,5.6)(4.2,5.5)}
\pinholes{(-11.6,2.45)(-15.2,0.9)(-4.3,-6.7)(-3.2,-6.75)(-2,-5)(4.3,-4.9)(5.4,-5.4)(8.5,-5.4)(16.6,-4.9)(3.7,-6.7)(14.2,2.2)(1.4,4.9)(2.1,6.3)(3.6,7.65)(4.8,7.65)(6.4,5.3)(4.3,4.5)(-4.2,12.6)}
\addplot[only marks,mark=diamond*,mark size=1.8pt,c1] coordinates {(-10.9,5.85)};
\mk{-8.1}{-1}{e}
\mk{7}{-1.5}{f}
\mk{10.4}{6.3}{g}
\end{axis}
\begin{axis}[cbar, at={(676.4pt,30.4pt)}, width=11pt,
  every axis y label/.style={at={(axis description cs:4.36,0.5)},rotate=90,anchor=center}]
\cbarfill
\end{axis}

\node[text=blue!15!black,font=\timesf\fontsize{20}{20}\selectfont] at (12.2pt,249.6pt) {A};
\node[text=blue!15!black,font=\timesf\fontsize{20}{20}\selectfont] at (383.4pt,250.4pt) {B};
\end{tikzpicture}
\end{document}
